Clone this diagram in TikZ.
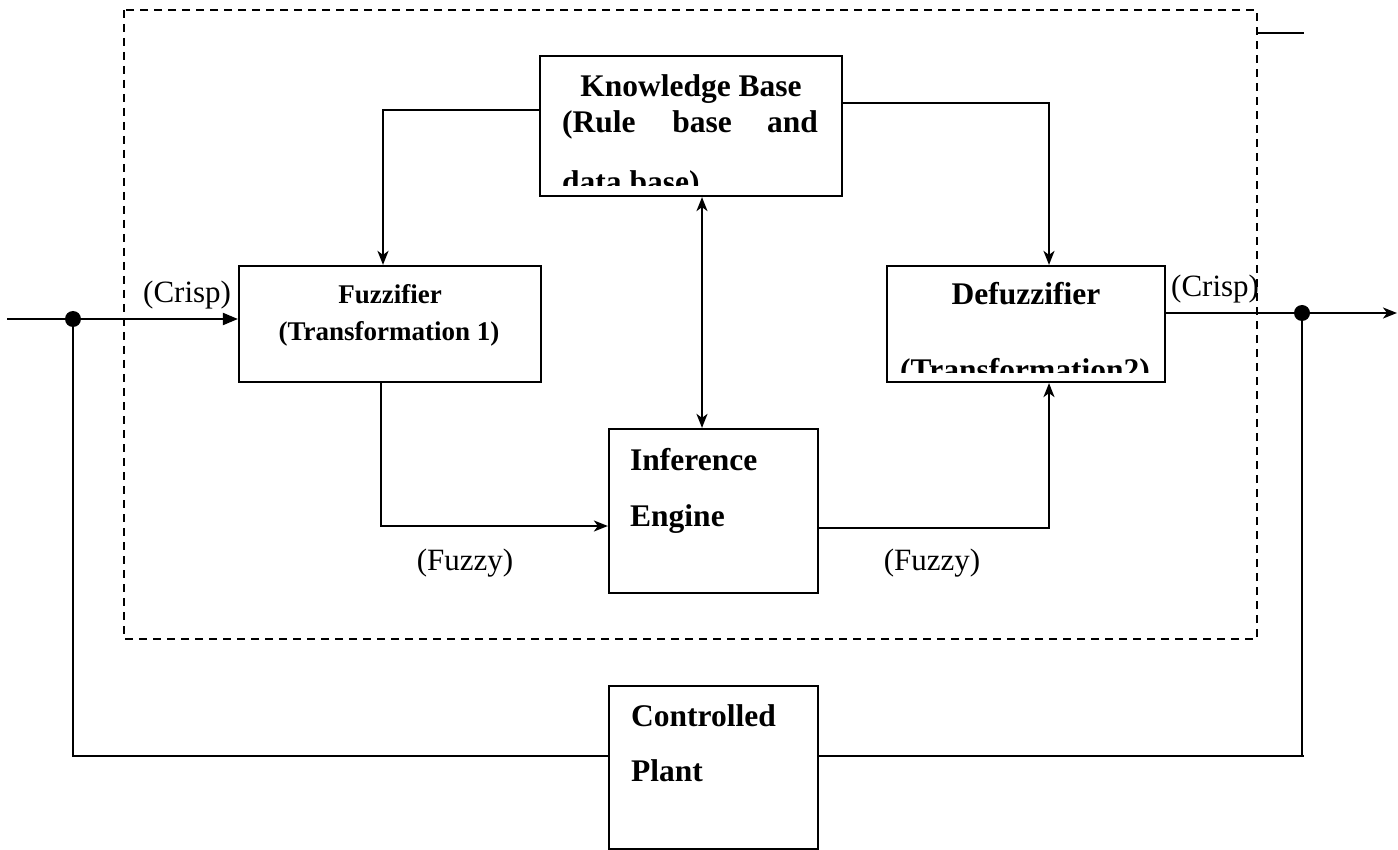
\documentclass[tikz,border=0pt]{standalone}
\usepackage{fontspec}
\setmainfont{Liberation Serif}
\usetikzlibrary{arrows.meta}
\begin{document}
\begin{tikzpicture}[x=1pt,y=-1pt,
  box/.style={draw,line width=2.2pt,inner sep=0pt,minimum width=#1},
  wire/.style={line width=2pt},
  arr/.style={wire,-{Stealth[length=14pt,width=11pt,inset=4pt]}},
  darr/.style={wire,{Stealth[length=14pt,width=11pt,inset=4pt]}-{Stealth[length=14pt,width=11pt,inset=4pt]}},
  tarr/.style={wire,-{Triangle[length=15pt,width=12pt]}},
  bt/.style={font=\fontsize{31.5}{36}\selectfont\bfseries,inner sep=0pt},
  ft/.style={font=\fontsize{27}{32}\selectfont\bfseries,inner sep=0pt},
  rt/.style={font=\fontsize{31}{36}\selectfont,inner sep=0pt},
  dot/.style={circle,fill,inner sep=0pt,minimum size=16pt}]
\useasboundingbox (0,0) rectangle (1398,850);
% dashed controller boundary
\draw[line width=2pt,dash pattern=on 8pt off 6pt] (124,10) rectangle (1257,639);
\coordinate (tl) at (1258,33);
\coordinate (tr) at (1304,33);
\draw[wire] (tl) -- (tr);
% boxes
\node[box=302pt,minimum height=140pt] (KB) at (691,126) {};
\node[box=302pt,minimum height=116pt] (Fuz) at (390,324) {};
\node[box=278pt,minimum height=116pt] (Def) at (1026,324) {};
\node[box=209pt,minimum height=164pt] (Inf) at (713.5,511) {};
\node[box=209pt,minimum height=163pt] (Plant) at (713.5,767.5) {};
% texts
\node[bt,anchor=base] (kb1) at (691,97) {Knowledge Base};
\node[bt,anchor=base west] (kb2) at (562,133) {(Rule};
\node[bt,anchor=base] (kb3) at (702,133) {base};
\node[bt,anchor=base east] (kb4) at (818,133) {and};
\begin{scope}
  \clip (542,150) rectangle (840,186);
  \node[bt,anchor=base west] (kb5) at (562,193) {data base)};
\end{scope}
\node[ft,anchor=base] (fz1) at (390,304) {Fuzzifier};
\node[ft,anchor=base] (fz2) at (389,341) {(Transformation 1)};
\node[bt,anchor=base] (df1) at (1026,305) {Defuzzifier};
\begin{scope}
  \clip (889,340) rectangle (1163,372);
  \node[bt,anchor=base] (df2) at (1025,381) {(Transformation2)};
\end{scope}
\node[bt,anchor=base west] (ie1) at (630,470) {Inference};
\node[bt,anchor=base west] (ie2) at (630,526) {Engine};
\node[bt,anchor=base west] (cp1) at (631,726) {Controlled};
\node[bt,anchor=base west] (cp2) at (631,781) {Plant};
\node[rt,anchor=base west] (c1) at (143,303) {(Crisp)};
\node[rt,anchor=base west] (c2) at (1171,297) {(Crisp)};
\node[rt,anchor=base] (fy1) at (465,570) {(Fuzzy)};
\node[rt,anchor=base] (fy2) at (932,570) {(Fuzzy)};
% connectors
\draw[arr] ([yshift=16pt]KB.west) -| ([xshift=-7pt]Fuz.north);
\draw[arr] ([yshift=23pt]KB.east) -| ([xshift=23pt]Def.north);
\draw[darr] ([xshift=11pt]KB.south) -- ([xshift=-11.5pt]Inf.north);
\draw[arr] ([xshift=-9pt]Fuz.south) |- ([yshift=-15pt]Inf.west);
\draw[arr] ([yshift=-17pt]Inf.east) -| ([xshift=23pt]Def.south);
% input / output
\coordinate (in) at (7,319);
\node[dot] (d1) at (73,319) {};
\draw[tarr] (in) -- ([yshift=5pt]Fuz.west);
\coordinate (out) at (1397,313);
\node[dot] (d2) at (1302,313) {};
\draw[arr] ([yshift=11pt]Def.east) -- (out);
% feedback
\draw[wire] (d1.center) |- ([yshift=11.5pt]Plant.west);
\coordinate (br) at (1304,756);
\draw[wire] ([yshift=11.5pt]Plant.east) -- (br);
\draw[wire] (d2.center) -- (d2.center |- br);
\end{tikzpicture}
\end{document}
